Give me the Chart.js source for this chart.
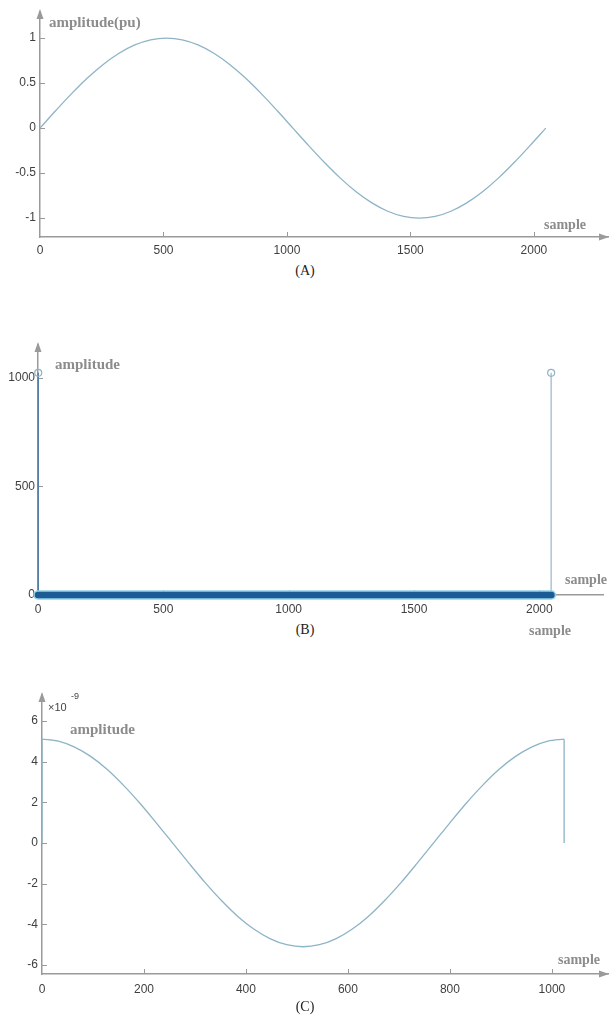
<!DOCTYPE html>
<html><head><meta charset="utf-8">
<script src="https://cdn.jsdelivr.net/npm/chart.js@4.4.1/dist/chart.umd.min.js"></script>
<style>
html,body{margin:0;padding:0;background:#fff;}
body{width:609px;height:1019px;position:relative;overflow:hidden;}
.panel{position:absolute;left:0;width:609px;}
.lbl{position:absolute;font-family:"Liberation Serif","DejaVu Serif",serif;font-weight:bold;color:#8c8c8c;white-space:nowrap;line-height:1;}
.cap{position:absolute;font-family:"Liberation Serif","DejaVu Serif",serif;color:#222;font-size:14px;line-height:1;transform:translateX(-50%);white-space:nowrap;}
.exp{position:absolute;font-family:"Liberation Sans",Arial,sans-serif;color:#444;line-height:1;white-space:nowrap;}
</style></head><body>
<div class="panel" style="top:0;height:262px"><canvas id="cA" width="609" height="262"></canvas></div>
<div class="panel" style="top:330px;height:290px"><canvas id="cB" width="609" height="290"></canvas></div>
<div class="panel" style="top:680px;height:320px"><canvas id="cC" width="609" height="320"></canvas></div>

<div class="lbl" style="left:49px;top:15px;font-size:15px">amplitude(pu)</div>
<div class="lbl" style="left:544px;top:218px;font-size:14px">sample</div>
<div class="cap" style="left:305px;top:264px">(A)</div>

<div class="lbl" style="left:55px;top:357px;font-size:15px">amplitude</div>
<div class="lbl" style="left:565px;top:573px;font-size:14px">sample</div>
<div class="cap" style="left:305px;top:623px">(B)</div>
<div class="lbl" style="left:529px;top:624px;font-size:14px">sample</div>

<div class="exp" style="left:48px;top:702px;font-size:11px">×10</div>
<div class="exp" style="left:71px;top:692px;font-size:9px">-9</div>
<div class="lbl" style="left:70px;top:722px;font-size:15px">amplitude</div>
<div class="lbl" style="left:558px;top:953px;font-size:14px">sample</div>
<div class="cap" style="left:305px;top:1000px">(C)</div>

<script>
// ---------- DATA ----------
// (A) one period of the input signal, amplitude in pu
const aSamples = [0,64,128,192,256,320,384,448,512,576,640,704,768,832,896,960,1024,
  1088,1152,1216,1280,1344,1408,1472,1536,1600,1664,1728,1792,1856,1920,1984,2048];
const aValues = [0,0.195,0.383,0.556,0.707,0.831,0.924,0.981,1.0,0.981,0.924,0.831,0.707,0.556,0.383,0.195,0,
  -0.195,-0.383,-0.556,-0.707,-0.831,-0.924,-0.981,-1.0,-0.981,-0.924,-0.831,-0.707,-0.556,-0.383,-0.195,0];
const aXTicks = [0,500,1000,1500,2000];
const aYTicks = [-1,-0.5,0,0.5,1];

// (B) spectrum: two spikes, everything else at zero
const bStemSamples = [1, 2047];
const bStemValues = [1024, 1024];
const bZeroSamples = [0, 2048];
const bZeroValues = [0, 0];
const bXTicks = [0,500,1000,1500,2000];
const bYTicks = [0,500,1000];

// (C) amplitude in units of 10^-9
const cSamples = [0,32,64,96,128,160,192,224,256,288,320,352,384,416,448,480,512,
  544,576,608,640,672,704,736,768,800,832,864,896,928,960,992,1024];
const cValues = [5.10,5.00,4.71,4.24,3.61,2.83,1.95,0.99,0,-0.99,-1.95,-2.83,-3.61,-4.24,-4.71,-5.00,-5.10,
  -5.00,-4.71,-4.24,-3.61,-2.83,-1.95,-0.99,0,0.99,1.95,2.83,3.61,4.24,4.71,5.00,5.10];
const cDropSamples = [0, 1024];   // vertical edges down to zero
const cXTicks = [0,200,400,600,800,1000];
const cYTicks = [-6,-4,-2,0,2,4,6];

// ---------- STYLE ----------
const AXIS_COLOR = '#9a9a9a';
const TICK_COLOR = '#3f3f3f';
const CURVE_COLOR = '#8db4c6';
const TICK_FONT = {family:'"Liberation Sans", Arial, sans-serif', size:12};

const axisDecor = {
  id:'axisDecor',
  beforeDatasetsDraw(chart, args, opts){
    const {ctx, chartArea:a} = chart;
    const x = chart.scales.x, y = chart.scales.y;
    ctx.save();
    ctx.strokeStyle = AXIS_COLOR; ctx.fillStyle = AXIS_COLOR; ctx.lineWidth = 1;
    x.ticks.forEach(t=>{
      if (t.value === 0) return;
      const px = Math.round(x.getPixelForValue(t.value)) + 0.5;
      ctx.beginPath(); ctx.moveTo(px, a.bottom); ctx.lineTo(px, a.bottom - 5); ctx.stroke();
    });
    y.ticks.forEach(t=>{
      const py = Math.round(y.getPixelForValue(t.value)) + 0.5;
      ctx.beginPath(); ctx.moveTo(a.left, py); ctx.lineTo(a.left + 5, py); ctx.stroke();
    });
    if (opts.up !== false){
      ctx.beginPath(); ctx.moveTo(a.left, a.top - 3); ctx.lineTo(a.left - 3.5, a.top + 7); ctx.lineTo(a.left + 3.5, a.top + 7); ctx.closePath(); ctx.fill();
    }
    if (opts.right !== false){
      ctx.beginPath(); ctx.moveTo(a.right, a.bottom); ctx.lineTo(a.right - 10, a.bottom - 3.5); ctx.lineTo(a.right - 10, a.bottom + 3.5); ctx.closePath(); ctx.fill();
    }
    ctx.restore();
  }
};

function xScale(min, max, ticks, pad, h){
  return {type:'linear', position:'bottom', min, max,
    afterBuildTicks: s => { s.ticks = ticks.map(v=>({value:v})); },
    afterFit: s => { s.height = h; },
    grid:{display:false, drawTicks:false, tickLength:0}, border:{display:true, color:AXIS_COLOR, width:1.5},
    ticks:{padding:pad, maxRotation:0, autoSkip:false, color:TICK_COLOR, font:TICK_FONT, callback:v=>String(v)}};
}
function yScale(min, max, ticks, pad, w){
  return {type:'linear', position:'left', min, max,
    afterBuildTicks: s => { s.ticks = ticks.map(v=>({value:v})); },
    afterFit: s => { s.width = w; },
    grid:{display:false, drawTicks:false, tickLength:0}, border:{display:true, color:AXIS_COLOR, width:1.5},
    ticks:{padding:pad, autoSkip:false, color:TICK_COLOR, font:TICK_FONT, callback:v=>String(v)}};
}
function baseOpts(padTop, xs, ys, decor){
  return {responsive:false, animation:false, devicePixelRatio:1,
    layout:{padding:{top:padTop, left:0, right:0, bottom:0}},
    plugins:{legend:{display:false}, tooltip:{enabled:false}, axisDecor:decor||{}},
    scales:{x:xs, y:ys}};
}
const pts = (xs, ys) => xs.map((v,i)=>({x:v, y:ys[i]}));

// (A)
new Chart(document.getElementById('cA'), {
  type:'line',
  data:{datasets:[{data:pts(aSamples,aValues), borderColor:CURVE_COLOR, borderWidth:1.3, pointRadius:0, cubicInterpolationMode:'monotone', fill:false}]},
  options: baseOpts(12, xScale(0, 2304, aXTicks, 6, 25), yScale(-1.21, 1.29, aYTicks, 4, 40)),
  plugins:[axisDecor]
});

// (B)  (dataset 0 is drawn on top)
const bDatasets = [
  {data:pts(bZeroSamples,bZeroValues), borderColor:'#1b5c95', borderWidth:6.5, borderCapStyle:'round', pointRadius:0, clip:false},
  {data:pts(bZeroSamples,bZeroValues), borderColor:'#93d2ea', borderWidth:9.5, borderCapStyle:'round', pointRadius:0, clip:false}
];
const stemColors = ['#4f7da6', '#a6c1d0'];
bStemSamples.forEach((s,i)=>{
  bDatasets.push({data:[{x:s,y:0},{x:s,y:bStemValues[i]}], borderColor:stemColors[i], borderWidth:1.4,
    pointRadius:c=>c.dataIndex===1?3.5:0, pointBackgroundColor:'rgba(255,255,255,0)', pointBorderColor:'#8fb3c6', pointBorderWidth:1.2, clip:false});
});
new Chart(document.getElementById('cB'), {
  type:'line',
  data:{datasets:bDatasets},
  options: baseOpts(15, xScale(0, 2257, bXTicks, 7, 25), yScale(0, 1152, bYTicks, 3, 38), {right:false}),
  plugins:[axisDecor]
});

// (C)
const cDatasets = [{data:pts(cSamples,cValues), borderColor:CURVE_COLOR, borderWidth:1.3, pointRadius:0, cubicInterpolationMode:'monotone', fill:false}];
cDropSamples.forEach(s=>{
  const v = cValues[cSamples.indexOf(s)];
  cDatasets.push({data:[{x:s,y:v},{x:s,y:0}], borderColor:CURVE_COLOR, borderWidth:1.3, pointRadius:0, clip:false});
});
new Chart(document.getElementById('cC'), {
  type:'line',
  data:{datasets:cDatasets},
  options: baseOpts(15, xScale(0, 1112, cXTicks, 8, 26), yScale(-6.44, 7.27, cYTicks, 4, 42)),
  plugins:[axisDecor]
});
</script>
</body></html>
